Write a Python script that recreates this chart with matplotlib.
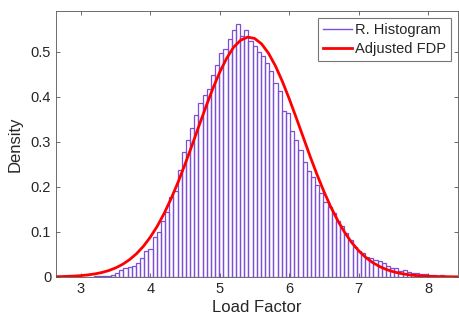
import matplotlib
matplotlib.use('Agg')
import matplotlib.pyplot as plt
from matplotlib.lines import Line2D
import numpy as np

plt.rcParams['font.family'] = ['Liberation Sans', 'DejaVu Sans']

# histogram: first bin edge, bin width, densities per bin
hist_start = 3.07
bin_width = 0.06
hist_density = [
    0.0004, 0.0006, 0.001, 0.0015, 0.002, 0.003, 0.005, 0.009, 0.015, 0.019,
    0.022, 0.025, 0.030, 0.042, 0.058, 0.062, 0.088, 0.100, 0.123, 0.145,
    0.178, 0.190, 0.238, 0.278, 0.304, 0.330, 0.360, 0.386, 0.404, 0.416,
    0.449, 0.471, 0.497, 0.505, 0.528, 0.548, 0.562, 0.535, 0.547, 0.523,
    0.512, 0.500, 0.490, 0.475, 0.456, 0.430, 0.412, 0.367, 0.364, 0.323,
    0.304, 0.282, 0.255, 0.235, 0.222, 0.205, 0.186, 0.167, 0.156, 0.141,
    0.123, 0.112, 0.098, 0.082, 0.067, 0.058, 0.053, 0.045, 0.041, 0.038,
    0.036, 0.030, 0.024, 0.019, 0.019, 0.014, 0.016, 0.011, 0.009, 0.008,
    0.007, 0.006, 0.005, 0.004, 0.003, 0.004,
]

# adjusted pdf
fdp_x = [2.6, 2.7, 2.8, 2.9, 3.0, 3.1, 3.2, 3.3, 3.4, 3.5, 3.6, 3.7, 3.8, 3.9,
         4.0, 4.1, 4.2, 4.3, 4.4, 4.5, 4.6, 4.7, 4.8, 4.9, 5.0, 5.1, 5.2, 5.3,
         5.4, 5.5, 5.6, 5.7, 5.8, 5.9, 6.0, 6.1, 6.2, 6.3, 6.4, 6.5, 6.6, 6.7,
         6.8, 6.9, 7.0, 7.1, 7.2, 7.3, 7.4, 7.5, 7.6, 7.7, 7.8, 7.9, 8.0, 8.1,
         8.2, 8.3, 8.4, 8.5]
fdp_y = [0.0005, 0.0007, 0.0012, 0.0019, 0.0029, 0.0045, 0.0067, 0.0098,
         0.0141, 0.0201, 0.028, 0.0384, 0.0516, 0.0682, 0.0887, 0.113, 0.1417,
         0.1745, 0.211, 0.2507, 0.2925, 0.3356, 0.378, 0.4184, 0.455, 0.4857,
         0.510, 0.5252, 0.532, 0.529, 0.517, 0.4962, 0.468, 0.4335, 0.3945,
         0.3527, 0.310, 0.267, 0.2265, 0.1887, 0.1543, 0.1241, 0.098, 0.0759,
         0.0578, 0.0433, 0.0318, 0.023, 0.0163, 0.0114, 0.0078, 0.0052, 0.0035,
         0.0023, 0.0014, 0.0009, 0.0006, 0.0004, 0.0002, 0.0001]

x_ticks = [3, 4, 5, 6, 7, 8]
y_ticks = [0, 0.1, 0.2, 0.3, 0.4, 0.5]
y_tick_labels = ['0', '0.1', '0.2', '0.3', '0.4', '0.5']

text_color = '#262626'
axis_color = '#555555'
hist_color = '#7d4fd6'

fig = plt.figure(figsize=(4.59, 3.22), dpi=100)
ax = fig.add_axes([0.122, 0.14, 0.876, 0.826])

edges = hist_start + bin_width * np.arange(len(hist_density) + 1)
centers = (edges[:-1] + edges[1:]) / 2
ax.bar(centers, hist_density, width=bin_width, fill=False,
       edgecolor=hist_color, linewidth=0.9)
ax.plot(fdp_x, fdp_y, color='red', linewidth=2)

ax.set_xlim(2.64, 8.43)
ax.set_ylim(0, 0.59)
ax.set_xticks(x_ticks)
ax.set_yticks(y_ticks)
ax.set_yticklabels(y_tick_labels)
ax.tick_params(direction='in', length=3, width=0.6, top=True, right=True,
               colors=axis_color, labelcolor=text_color, labelsize=10.5)
for sp in ax.spines.values():
    sp.set_color(axis_color)
    sp.set_linewidth(0.6)

ax.set_xlabel('Load Factor', fontsize=12, color=text_color, labelpad=3)
ax.set_ylabel('Density', fontsize=12, color=text_color, labelpad=6)

handles = [Line2D([], [], color=hist_color, linewidth=1.0),
           Line2D([], [], color='red', linewidth=2)]
leg = ax.legend(handles, ['R. Histogram', 'Adjusted FDP'], loc='upper right',
                fontsize=10.5, frameon=True, fancybox=False, borderpad=0.35,
                handlelength=2.0, handletextpad=0.15, labelspacing=0.3,
                borderaxespad=0.5, framealpha=1)
leg.get_frame().set_edgecolor('#777777')
leg.get_frame().set_linewidth(0.8)
for t in leg.get_texts():
    t.set_color(text_color)

fig.savefig('out.png', dpi=100)
